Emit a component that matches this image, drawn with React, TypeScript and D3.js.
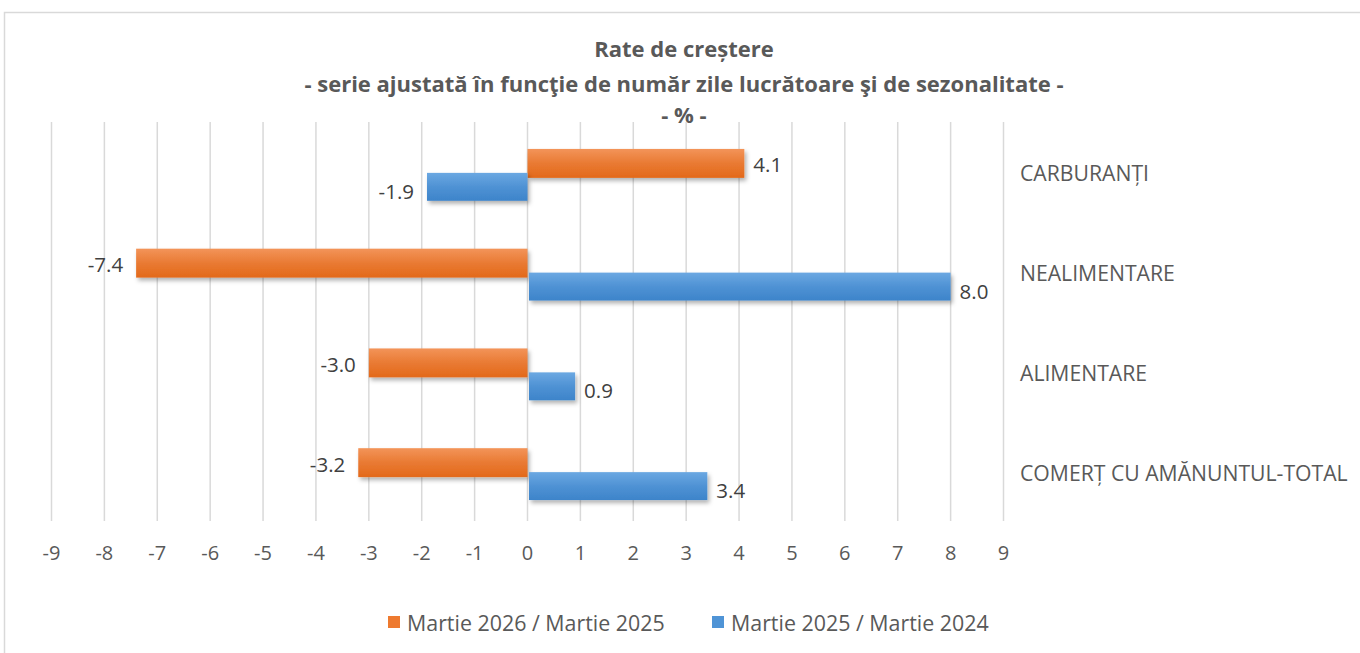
import { useRef, useEffect } from 'react';
import * as d3 from 'd3';

const titleLines = [
    'Rate de creștere',
    '- serie ajustată în funcţie de număr zile lucrătoare şi de sezonalitate -',
    '- % -',
];
const categories = ['CARBURANȚI', 'NEALIMENTARE', 'ALIMENTARE', 'COMERȚ CU AMĂNUNTUL-TOTAL'];
const seriesNames = ['Martie 2026 / Martie 2025', 'Martie 2025 / Martie 2024'];
const march2026 = [4.1, -7.4, -3.0, -3.2];
const march2025 = [-1.9, 8.0, 0.9, 3.4];
const xTicks = [-9, -8, -7, -6, -5, -4, -3, -2, -1, 0, 1, 2, 3, 4, 5, 6, 7, 8, 9];

const FONT = '"Open Sans", Lato, sans-serif';
const TEXT = '#595959';
const GRID = '#d9d9d9';

export default function App() {
    const svgRef = useRef<SVGSVGElement>(null);
    const width = 1360;
    const height = 653;

    useEffect(() => {
        if (!svgRef.current) return;
        document.body.style.margin = '0';

        const svg = d3.select(svgRef.current);
        svg.selectAll('*').remove();

        const plot = { left: 51.5, right: 1003.5, top: 122, bottom: 521 };

        const xScale = d3.scaleLinear()
            .domain([xTicks[0], xTicks[xTicks.length - 1]])
            .range([plot.left, plot.right]);

        const yScale = d3.scaleBand<string>()
            .domain(categories)
            .range([plot.top, plot.bottom]);
        const bw = yScale.bandwidth();

        const defs = svg.append('defs');
        const grad = (id: string, top: string, bottom: string) => {
            const lg = defs.append('linearGradient')
                .attr('id', id)
                .attr('x1', 0).attr('y1', 0).attr('x2', 0).attr('y2', 1);
            lg.append('stop').attr('offset', '0%').attr('stop-color', top);
            lg.append('stop').attr('offset', '50%').attr('stop-color', d3.interpolateRgb(top, bottom)(0.6));
            lg.append('stop').attr('offset', '100%').attr('stop-color', bottom);
        };
        grad('gOrange', '#f39459', '#e3691a');
        grad('gBlue', '#6ba8e2', '#3d84ca');

        defs.append('filter')
            .attr('id', 'shadow')
            .attr('x', '-10%').attr('y', '-30%').attr('width', '130%').attr('height', '180%')
            .append('feDropShadow')
            .attr('dx', 2).attr('dy', 3)
            .attr('stdDeviation', 2.2)
            .attr('flood-color', '#000')
            .attr('flood-opacity', 0.3);

        // Chart area border (left and top visible)
        svg.append('rect')
            .attr('x', 4.5)
            .attr('y', 12.5)
            .attr('width', width + 20)
            .attr('height', height + 20)
            .attr('fill', '#fff')
            .attr('stroke', GRID)
            .attr('stroke-width', 1.5);

        // Title
        const titleY = [48, 83, 114];
        titleLines.forEach((t, i) => {
            svg.append('text')
                .attr('x', 684)
                .attr('y', titleY[i])
                .attr('text-anchor', 'middle')
                .attr('dominant-baseline', 'central')
                .attr('fill', TEXT)
                .attr('font-family', FONT)
                .attr('font-size', '22px')
                .attr('font-weight', 'bold')
                .text(t);
        });

        // Gridlines
        const grid = svg.append('g');
        xTicks.forEach(t => {
            grid.append('line')
                .attr('x1', xScale(t))
                .attr('x2', xScale(t))
                .attr('y1', plot.top)
                .attr('y2', plot.bottom)
                .attr('stroke', GRID)
                .attr('stroke-width', 1.5);
        });

        // Tick labels
        xTicks.forEach(t => {
            svg.append('text')
                .attr('x', xScale(t))
                .attr('y', 552)
                .attr('text-anchor', 'middle')
                .attr('dominant-baseline', 'central')
                .attr('fill', TEXT)
                .attr('font-family', FONT)
                .attr('font-size', '20px')
                .text(String(t));
        });

        // Category labels
        categories.forEach(c => {
            svg.append('text')
                .attr('x', 1020)
                .attr('y', (yScale(c) ?? 0) + bw / 2 + 1)
                .attr('dominant-baseline', 'central')
                .attr('fill', TEXT)
                .attr('font-family', FONT)
                .attr('font-size', '21.2px')
                .text(c);
        });

        // Bars
        const series = [
            { values: march2026, fill: 'url(#gOrange)', offset: 0.27, size: 0.29, dx0: 0, dy: 1 },
            { values: march2025, fill: 'url(#gBlue)', offset: 0.51, size: 0.28, dx0: 1.5, dy: 4 },
        ];
        const fmt = (v: number) => v.toFixed(1);
        const bars = svg.append('g');
        const labels = svg.append('g');

        series.forEach(s => {
            s.values.forEach((v, i) => {
                const y = (yScale(categories[i]) ?? 0) + bw * s.offset;
                const h = bw * s.size;
                const x0 = xScale(0) + (v >= 0 ? s.dx0 : 0);
                const x1 = xScale(v);
                bars.append('rect')
                    .attr('x', Math.min(x0, x1))
                    .attr('y', y)
                    .attr('width', Math.abs(x1 - x0))
                    .attr('height', h)
                    .attr('fill', s.fill)
                    .attr('filter', 'url(#shadow)');

                labels.append('text')
                    .attr('x', v >= 0 ? x1 + 9 : x1 - 13)
                    .attr('y', y + h / 2 + s.dy)
                    .attr('text-anchor', v >= 0 ? 'start' : 'end')
                    .attr('dominant-baseline', 'central')
                    .attr('fill', '#404040')
                    .attr('font-family', FONT)
                    .attr('font-size', '20.5px')
                    .text(fmt(v));
            });
        });

        // Legend
        const legendColors = ['#ee7a2f', '#4f94d6'];
        const legendX = [388, 712];
        seriesNames.forEach((name, i) => {
            svg.append('rect')
                .attr('x', legendX[i])
                .attr('y', 616)
                .attr('width', 12)
                .attr('height', 12)
                .attr('fill', legendColors[i]);
            svg.append('text')
                .attr('x', legendX[i] + 19)
                .attr('y', 622)
                .attr('dominant-baseline', 'central')
                .attr('fill', TEXT)
                .attr('font-family', FONT)
                .attr('font-size', '21.4px')
                .text(name);
        });
    }, []);

    return (
        <svg
            ref={svgRef}
            width={width}
            height={height}
            style={{ display: 'block', background: '#fff' }}
        />
    );
}
